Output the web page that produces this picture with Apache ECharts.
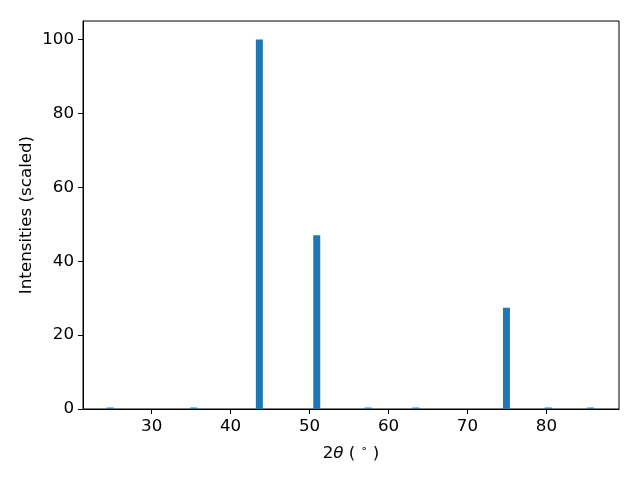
<!DOCTYPE html>
<html>
<head>
<meta charset="utf-8">
<script src="https://cdn.jsdelivr.net/npm/echarts@6/dist/echarts.min.js"></script>
<style>html,body{margin:0;padding:0;background:#fff}#c{width:640px;height:480px}</style>
</head>
<body>
<div id="c"></div>
<script>
const twoTheta = [24.75, 35.32, 43.64, 50.91, 57.42, 63.46, 74.94, 80.25, 85.6];
const intensity = [0.4, 0.4, 100, 47.0, 0.4, 0.4, 27.4, 0.4, 0.4];
const xTicks = [30, 40, 50, 60, 70, 80];
const yTicks = [0, 20, 40, 60, 80, 100];

const font = 'DejaVu Sans';
const fs = 16.7;
const chart = echarts.init(document.getElementById('c'), null, {renderer: 'canvas'});
chart.setOption({
  animation: false,
  backgroundColor: '#fff',
  grid: {left: 83, right: 21, top: 21, bottom: 71, show: true, borderColor: '#000', borderWidth: 1, containLabel: false},
  xAxis: {
    type: 'value', min: 21.3, max: 89.2,
    axisLine: {show: true, onZero: false, lineStyle: {color: '#000', width: 1}},
    axisTick: {show: true, length: 5, lineStyle: {color: '#000'}, customValues: xTicks},
    axisLabel: {color: '#000', fontFamily: font, fontSize: fs, margin: 9, customValues: xTicks},
    splitLine: {show: false},
    name: '{n|2}{i|θ}{n| ( }{s|∘}{n| )}',
    nameLocation: 'middle', nameGap: 35, nameMoveOverlap: false,
    nameTextStyle: {
      rich: {
        n: {fontFamily: font, fontSize: fs, color: '#000'},
        i: {fontFamily: font, fontSize: fs, color: '#000', fontStyle: 'italic'},
        s: {fontFamily: font, fontSize: 11, color: '#000', verticalAlign: 'top', padding: [0,0,8,0]}
      }
    }
  },
  yAxis: {
    type: 'value', min: 0, max: 105, interval: 20,
    axisLine: {show: true, lineStyle: {color: '#000', width: 1}},
    axisTick: {show: true, length: 5, lineStyle: {color: '#000'}, customValues: yTicks},
    axisLabel: {color: '#000', fontFamily: font, fontSize: fs, margin: 9, customValues: yTicks},
    splitLine: {show: false},
    name: 'Intensities (scaled)', nameLocation: 'middle', nameGap: 48, nameMoveOverlap: false,
    nameTextStyle: {color: '#000', fontFamily: font, fontSize: fs}
  },
  series: [{
    type: 'bar',
    data: twoTheta.map((x, i) => [x, intensity[i]]),
    barWidth: 7,
    itemStyle: {color: '#1f77b4'}
  }]
});
</script>
</body>
</html>
